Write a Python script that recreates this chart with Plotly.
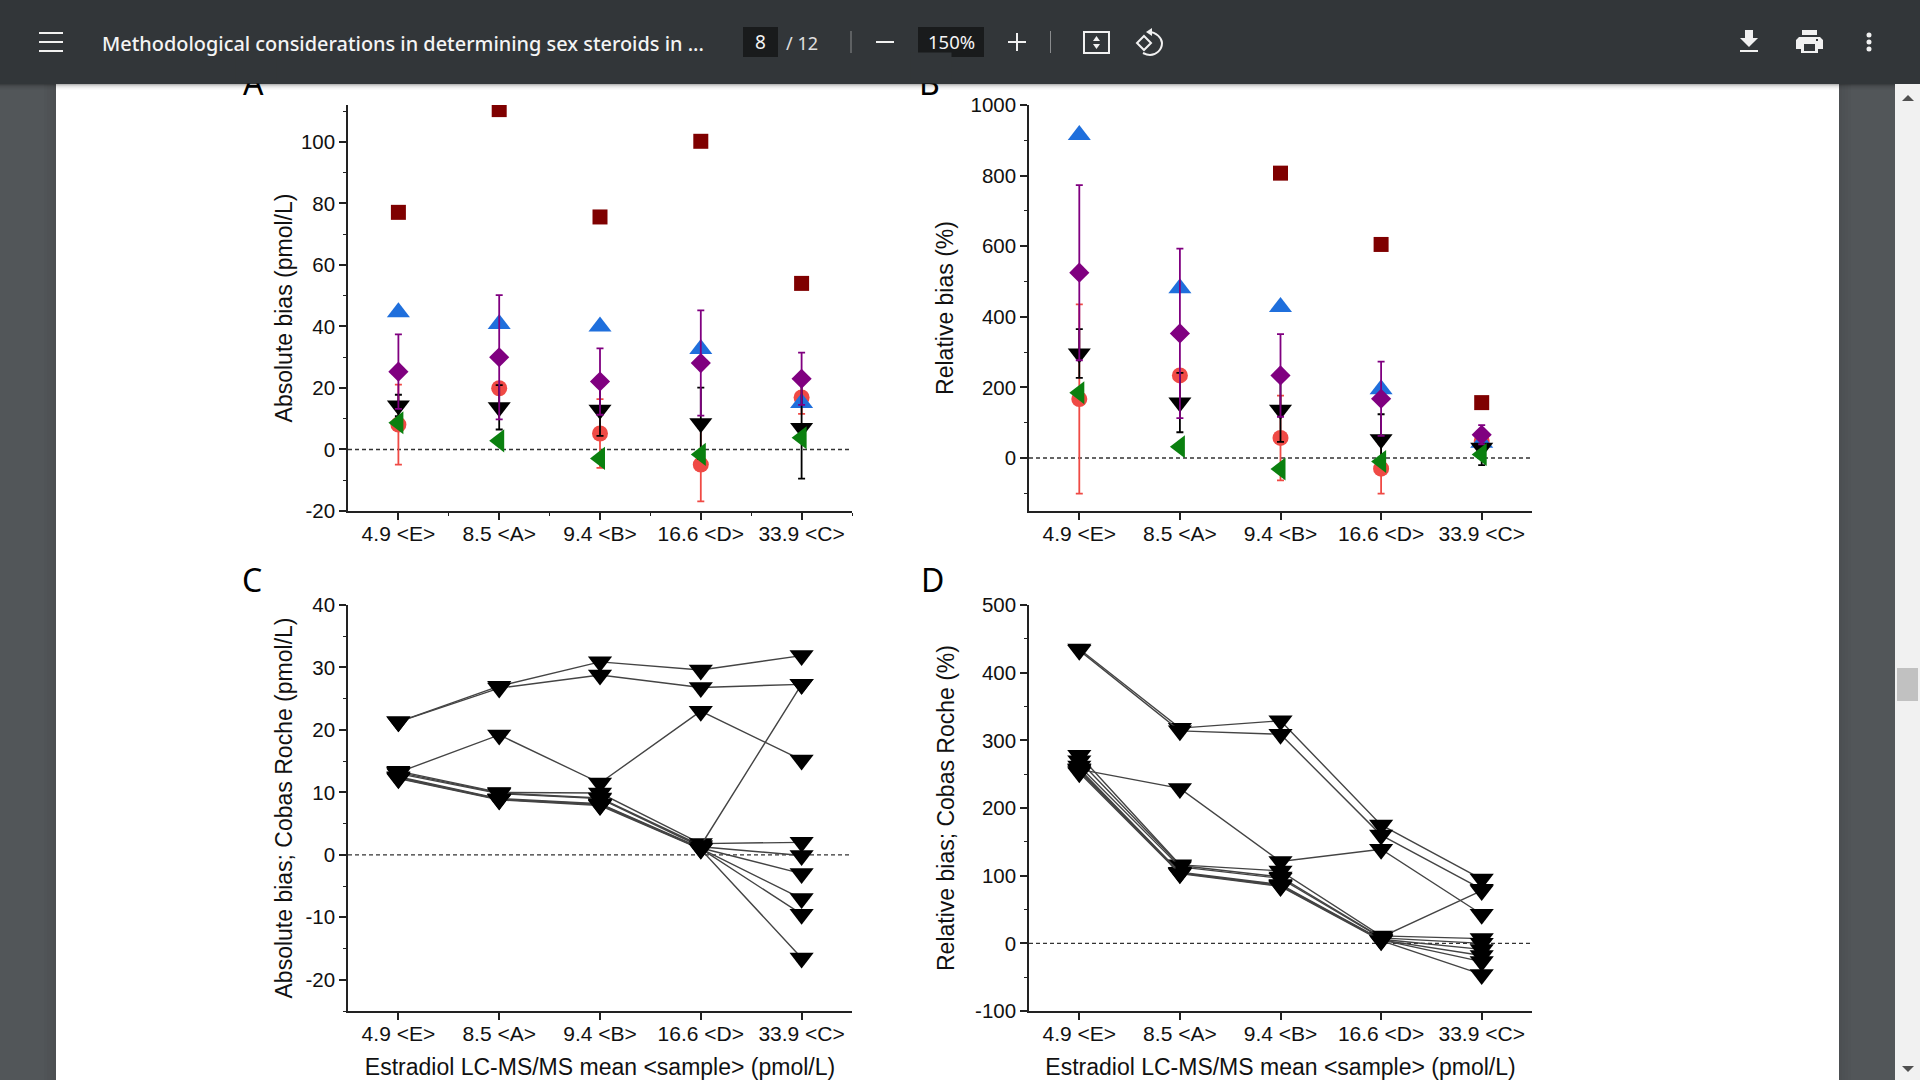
import plotly.graph_objects as go

# ---------- data ----------
SAMPLES = [0, 1, 2, 3, 4]
SAMPLE_LABELS = ["4.9 &lt;E&gt;", "8.5 &lt;A&gt;", "9.4 &lt;B&gt;", "16.6 &lt;D&gt;", "33.9 &lt;C&gt;"]

A_SQUARE = [77.1, 110.5, 75.6, 100.2, 54.0]
A_BLUE = [44.6, 40.8, 40.0, 32.7, 15.1]
A_RED = [8.1, 19.9, 5.2, -4.9, 16.9]
A_RED_ERR = [13.0, 0.0, 11.2, 12.0, 5.3]
A_BLACK = [14.3, 13.7, 12.9, 8.5, 7.0]
A_BLACK_ERR = [3.5, 7.2, 8.5, 11.6, 16.5]
A_PURPLE = [25.3, 30.0, 22.1, 28.1, 23.0]
A_PURPLE_ERR = [12.1, 20.2, 10.8, 17.1, 8.5]
A_GREEN = [8.7, 2.8, -2.9, -1.6, 3.8]

B_SQUARE = [None, None, 807, 605, 157]
B_BLUE = [915, 481, 428, 195, 43]
B_RED = [167, 234, 57, -30, 48]
B_RED_ERR = [268, 0, 120, 71, 25]
B_BLACK = [296, 157, 137, 53, 29]
B_BLACK_ERR = [69, 84, 91, 71, 49]
B_PURPLE = [525, 353, 234, 168, 66]
B_PURPLE_ERR = [248, 240, 117, 105, 27]
B_GREEN = [185, 32, -31, -10, 10]

C_LINE_1 = [21.3, 27.0, 30.9, 29.6, 31.9]
C_LINE_2 = [21.3, 26.7, 28.8, 26.8, 27.3]
C_LINE_3 = [13.2, 19.2, 11.5, 23.0, 15.2]
C_LINE_4 = [13.4, 10.0, 9.9, 1.8, 2.0]
C_LINE_5 = [13.2, 9.9, 9.1, 1.5, 27.3]
C_LINE_6 = [13.0, 9.8, 9.0, 1.3, -0.1]
C_LINE_7 = [12.5, 9.0, 8.2, 1.1, -3.0]
C_LINE_8 = [12.4, 8.9, 8.1, 1.0, -7.0]
C_LINE_9 = [12.3, 8.9, 8.0, 1.0, -9.5]
C_LINE_10 = [12.2, 8.8, 7.9, 0.9, -16.5]

D_LINE_1 = [435, 318, 329, 175, 95]
D_LINE_2 = [433, 314, 309, 160, 80]
D_LINE_3 = [257, 229, 121, 139, 43]
D_LINE_4 = [278, 116, 107, 11, 7]
D_LINE_5 = [270, 115, 98, 9, 78]
D_LINE_6 = [262, 113, 96, 8, 0]
D_LINE_7 = [258, 105, 87, 6, -9]
D_LINE_8 = [256, 104, 86, 5, -18]
D_LINE_9 = [254, 104, 85, 5, -27]
D_LINE_10 = [252, 103, 84, 4, -46]

A_TICKS = [-20, 0, 20, 40, 60, 80, 100]
A_MINOR = [-10, 10, 30, 50, 70, 90, 110]
B_TICKS = [0, 200, 400, 600, 800, 1000]
B_MINOR = [-100, 100, 300, 500, 700, 900]
C_TICKS = [-20, -10, 0, 10, 20, 30, 40]
C_MINOR = [-25, -15, -5, 5, 15, 25, 35]
D_TICKS = [-100, 0, 100, 200, 300, 400, 500]
D_MINOR = [-50, 50, 150, 250, 350, 450]

TITLE_TEXT = "Methodological considerations in determining sex steroids in ..."
XTITLE = "Estradiol LC-MS/MS mean &lt;sample&gt; (pmol/L)"

# ---------- style ----------
W, H = 1920, 1080
DARKRED, BLUE, RED, BLACK, PURPLE, GREEN = "#7f0000", "#1f6fdc", "#ef4a45", "#000000", "#800080", "#0a800f"
BAR = "#323639"
AXFONT = "Liberation Sans"
UI = "Noto Sans"


def px(x):
    return x / W


def py(y):
    return 1 - y / H


fig = go.Figure()


def add_panel(n, xl, xr, yt, yb, yrange, ticks, minor, ytitle, xtitle=None, xminor=None, standoff=8):
    xn, yn = ("xaxis", "yaxis") if n == 1 else (f"xaxis{n}", f"yaxis{n}")
    xr_ref, yr_ref = ("x", "y") if n == 1 else (f"x{n}", f"y{n}")
    xa = dict(domain=[px(xl), px(xr)], range=[-0.5, 4.5], anchor=yr_ref, tickmode="array", automargin=False,
              tickvals=SAMPLES, ticktext=SAMPLE_LABELS, ticks="outside", ticklen=7, tickwidth=1.5,
              ticklabelstandoff=-4,
              tickcolor="#222", showline=True, linecolor="#222", linewidth=1.6, showgrid=False,
              zeroline=False, tickfont=dict(family=AXFONT, size=21, color="#111"))
    if xminor:
        xa["minor"] = dict(tickmode="array", tickvals=xminor, ticks="outside", ticklen=3, tickwidth=1.3,
                           tickcolor="#222", showgrid=False)
    if xtitle:
        xa["title"] = dict(text=xtitle, font=dict(family=AXFONT, size=23, color="#111"), standoff=18)
    ya = dict(domain=[py(yb), py(yt)], range=yrange, anchor=xr_ref, tickmode="array", tickvals=ticks,
              ticktext=[str(t) for t in ticks], automargin=False,
              ticks="outside", ticklen=7, tickwidth=1.5, tickcolor="#222", showline=True, linecolor="#222",
              linewidth=1.6, showgrid=False, zeroline=False,
              tickfont=dict(family=AXFONT, size=20.5, color="#111"),
              minor=dict(tickmode="array", tickvals=minor, ticks="outside", ticklen=3, tickwidth=1.3,
                         tickcolor="#222", showgrid=False),
              title=dict(text=ytitle, font=dict(family=AXFONT, size=23, color="#111"), standoff=standoff))
    fig.update_layout({xn: xa, yn: ya})
    return xr_ref, yr_ref


def zero_line(xref, yref):
    return dict(type="line", xref=f"{xref} domain", yref=yref, x0=0, x1=1, y0=0, y1=0,
                line=dict(color="#333", width=1.4, dash="4px,3px"), layer="below")


def scatter_panel(xr, yr, sq, blue, red, rede, blk, blke, pur, pure, grn):
    def tr(v, sym, col, size, err=None, errcol=None):
        kw = {}
        if err is not None:
            kw["error_y"] = dict(type="data", array=err, visible=True, color=errcol or col, thickness=1.8, width=3.5)
        fig.add_trace(go.Scatter(x=SAMPLES, y=v, mode="markers", xaxis=xr, yaxis=yr, showlegend=False,
                                 marker=dict(symbol=sym, color=col, size=size), **kw))
    tr(sq, "square", DARKRED, 15)
    tr(red, "circle", RED, 16, rede)
    tr(blue, "triangle-up", BLUE, 20)
    tr(blk, "triangle-down", BLACK, 20, blke)
    tr(pur, "diamond", PURPLE, 15.5, pure)
    tr(grn, "triangle-left", GREEN, 20)


def line_panel(xr, yr, lines):
    for v in lines:
        fig.add_trace(go.Scatter(x=SAMPLES, y=v, mode="lines+markers", xaxis=xr, yaxis=yr, showlegend=False,
                                 line=dict(color="#444", width=1.4),
                                 marker=dict(symbol="triangle-down", color="black", size=21)))


xa_, ya_ = add_panel(1, 348, 852, 105, 511, [-20, 112], A_TICKS, A_MINOR, "Absolute bias (pmol/L)",
                     xminor=[0.5, 1.5, 2.5, 3.5, 4.5], standoff=2)
scatter_panel(xa_, ya_, A_SQUARE, A_BLUE, A_RED, A_RED_ERR, A_BLACK, A_BLACK_ERR, A_PURPLE, A_PURPLE_ERR, A_GREEN)
xb_, yb_ = add_panel(2, 1029, 1532, 105, 511, [-150, 1000], B_TICKS, B_MINOR, "Relative bias (%)", standoff=10)
scatter_panel(xb_, yb_, B_SQUARE, B_BLUE, B_RED, B_RED_ERR, B_BLACK, B_BLACK_ERR, B_PURPLE, B_PURPLE_ERR, B_GREEN)
xc_, yc_ = add_panel(3, 348, 852, 605, 1011, [-25, 40], C_TICKS, C_MINOR, "Absolute bias; Cobas Roche (pmol/L)", XTITLE,
                     standoff=6.5)
line_panel(xc_, yc_, [C_LINE_1, C_LINE_2, C_LINE_3, C_LINE_4, C_LINE_5, C_LINE_6, C_LINE_7, C_LINE_8, C_LINE_9, C_LINE_10])
xd_, yd_ = add_panel(4, 1029, 1532, 605, 1011, [-100, 500], D_TICKS, D_MINOR, "Relative bias; Cobas Roche (%)", XTITLE,
                     standoff=14)
line_panel(xd_, yd_, [D_LINE_1, D_LINE_2, D_LINE_3, D_LINE_4, D_LINE_5, D_LINE_6, D_LINE_7, D_LINE_8, D_LINE_9, D_LINE_10])

# ---------- page chrome ----------
shapes = []


def rect(x0, y0, x1, y1, fill, layer="below", op=1.0, line=None, lw=0):
    shapes.append(dict(type="rect", xref="paper", yref="paper", x0=px(x0), x1=px(x1), y0=py(y1), y1=py(y0),
                       fillcolor=fill, opacity=op, layer=layer,
                       line=dict(width=lw, color=line or fill)))


def path(pts, fill=None, stroke=None, lw=0, close=True, layer="above"):
    d = ""
    for i, p in enumerate(pts):
        if len(p) == 2:
            d += ("M" if i == 0 else "L") + f"{px(p[0]):.5f},{py(p[1]):.5f} "
        else:
            d += f"C{px(p[0]):.5f},{py(p[1]):.5f} {px(p[2]):.5f},{py(p[3]):.5f} {px(p[4]):.5f},{py(p[5]):.5f} "
    if close:
        d += "Z"
    shapes.append(dict(type="path", xref="paper", yref="paper", path=d, layer=layer,
                       fillcolor=fill or "rgba(0,0,0,0)", line=dict(color=stroke or "rgba(0,0,0,0)", width=lw)))


rect(56, 0, 1839, H, "white")
for i, op in enumerate([0.07, 0.05, 0.035, 0.02]):   # side shadows
    rect(56 - 3 * (i + 1), 0, 56 - 3 * i, H, "black", op=op)
    rect(1839 + 3 * i, 0, 1839 + 3 * (i + 1), H, "black", op=op)
rect(1895, 0, W, H, "#f1f1f1")
rect(1897, 668, 1918, 701, "#c1c1c1")
path([(1902, 101), (1914, 101), (1908, 95)], fill="#505050")
path([(1902, 1066), (1914, 1066), (1908, 1072)], fill="#505050")
for shadow_y, op in enumerate([0.28, 0.18, 0.11, 0.07, 0.04, 0.02]):
    rect(0, 84 + shadow_y, 1895, 85 + shadow_y, "black", layer="above", op=op)

rect(0, 0, W, 84, BAR, layer="above")
for y in (33, 42, 51):
    rect(39, y - 1, 63, y + 1, "#f1f1f1", layer="above")
rect(743, 27, 778, 57, "#191b1c", layer="above")
rect(918, 27, 984, 57, "#191b1c", layer="above")
rect(850.5, 31, 851.5, 53, "#8a8c8e", layer="above")
rect(1050, 31, 1051, 53, "#8a8c8e", layer="above")
rect(876, 41, 894, 43, "#f1f1f1", layer="above")
rect(1008, 41, 1026, 43, "#f1f1f1", layer="above")
rect(1016, 33, 1018, 51, "#f1f1f1", layer="above")
# fit-to-page icon
path([(1084, 32), (1109, 32), (1109, 53), (1084, 53)], stroke="#f1f1f1", lw=2)
path([(1096.5, 36), (1100, 41), (1093, 41)], fill="#f1f1f1")
path([(1096.5, 49), (1100, 44), (1093, 44)], fill="#f1f1f1")
# rotate icon
path([(1144, 36), (1151, 43), (1144, 50), (1137, 43)], stroke="#f1f1f1", lw=2)
path([(1149, 32), (1156, 32, 1162, 38, 1162, 43), (1162, 50, 1156, 55, 1150, 55), (1147, 55, 1145, 54, 1143, 53)],
     stroke="#f1f1f1", lw=2, close=False)
path([(1152, 28), (1152, 36), (1146, 32)], fill="#f1f1f1")
# download icon
path([(1745, 30), (1753, 30), (1753, 38), (1758, 38), (1749, 47), (1740, 38), (1745, 38)], fill="#f1f1f1")
rect(1740, 50, 1758, 52, "#f1f1f1", layer="above")
# print icon
rect(1802, 30, 1817, 35, "#f1f1f1", layer="above")
path([(1799, 37), (1820, 37), (1823, 40), (1823, 49), (1818, 49), (1818, 53), (1801, 53), (1801, 49), (1796, 49), (1796, 40)],
     fill="#f1f1f1")
rect(1804, 44, 1815, 51, BAR, layer="above")
rect(1816, 39, 1818, 41, BAR, layer="above")
# kebab
for y in (35, 42, 49):
    shapes.append(dict(type="circle", xref="paper", yref="paper", x0=px(1866.5), x1=px(1871.5), y0=py(y + 2.5),
                       y1=py(y - 2.5), fillcolor="#f1f1f1", line=dict(width=0), layer="above"))

shapes += [zero_line(xa_, ya_), zero_line(xb_, yb_), zero_line(xc_, yc_), zero_line(xd_, yd_)]


def label(x, y, text, size, color="#000", family=UI, xanchor="center", yanchor="middle", weight=None):
    f = dict(family=family, size=size, color=color)
    if weight:
        f["weight"] = weight
    return dict(xref="paper", yref="paper", x=px(x), y=py(y), text=text, showarrow=False, xanchor=xanchor,
                yanchor=yanchor, font=f)


annotations = [
    label(253, 83, "A", 32),
    label(929, 83, "B", 32),
    label(252, 579, "C", 32),
    label(932, 579, "D", 32),
    # strips of toolbar colour that hide the part of the panel letters above the page edge
    dict(xref="paper", yref="paper", x=px(235), y=py(84), xanchor="left", yanchor="bottom", showarrow=False,
         text=" ", width=40, height=30, bgcolor=BAR, borderpad=0),
    dict(xref="paper", yref="paper", x=px(910), y=py(84), xanchor="left", yanchor="bottom", showarrow=False,
         text=" ", width=40, height=30, bgcolor=BAR, borderpad=0),
    label(100, 43, TITLE_TEXT, 19.9, "#f4f4f4", xanchor="left", weight=500),
    label(760.5, 42, "8", 19, "#f4f4f4"),
    label(784, 43, "/ 12", 18, "#e0e0e0", xanchor="left"),
    label(951, 42, "150%", 18.5, "#f4f4f4"),
]

fig.update_layout(width=W, height=H, margin=dict(l=0, r=0, t=0, b=0), paper_bgcolor="#525659",
                  plot_bgcolor="rgba(0,0,0,0)", shapes=shapes, annotations=annotations, showlegend=False)

fig.write_html("out.html", config=dict(displayModeBar=False),
               post_script="document.body.style.margin='0';document.body.style.overflow='hidden';")
